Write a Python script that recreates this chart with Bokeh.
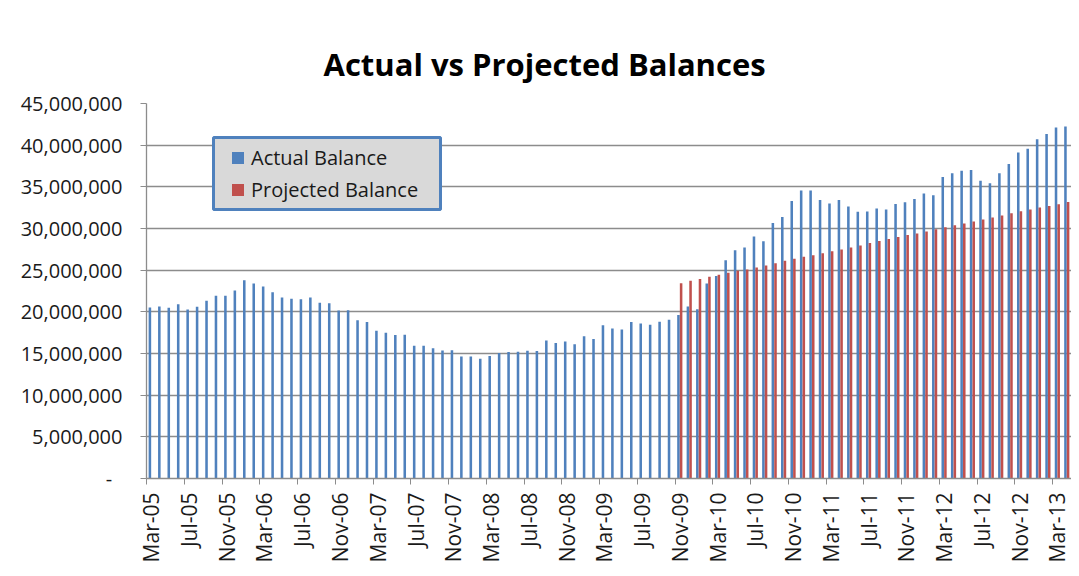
import math
import pandas as pd
from bokeh.plotting import figure
from bokeh.models import (ColumnDataSource, FixedTicker, Legend, LegendItem,
                          NumeralTickFormatter, BoxAnnotation)
from bokeh.embed import file_html
from bokeh.resources import INLINE

# ---------------- data ----------------
months = pd.date_range("2005-03-01", "2013-04-01", freq="MS").strftime("%b-%y").tolist()

actual_millions = [
    20.52, 20.64, 20.48, 20.92, 20.28, 20.60, 21.32, 21.92, 21.92, 22.56,
    23.80, 23.40, 23.04, 22.36, 21.72, 21.56, 21.52, 21.72, 21.08, 21.04,
    20.17, 20.20, 18.98, 18.77, 17.74, 17.50, 17.23, 17.26, 15.92, 15.92,
    15.64, 15.36, 15.40, 14.64, 14.64, 14.37, 14.69, 15.05, 15.17, 15.20,
    15.33, 15.29, 16.55, 16.27, 16.43, 16.10, 17.07, 16.75, 18.40, 17.99,
    17.87, 18.77, 18.60, 18.44, 18.80, 19.05, 19.63, 20.63, 20.30, 23.41,
    24.30, 26.20, 27.40, 27.71, 29.03, 28.48, 30.66, 31.38, 33.29, 34.57,
    34.57, 33.41, 33.01, 33.41, 32.65, 32.02, 32.03, 32.39, 32.27, 32.95,
    33.15, 33.55, 34.19, 33.99, 36.18, 36.62, 36.93, 37.01, 35.74, 35.42,
    36.62, 37.73, 39.13, 39.56, 40.72, 41.35, 42.11, 42.23,
]

projected_start = "Nov-09"
projected_millions = [
    23.43, 23.73, 23.93, 24.21, 24.45, 24.69, 24.93, 25.08, 25.32, 25.56,
    25.84, 26.12, 26.36, 26.60, 26.80, 27.04, 27.28, 27.47, 27.71, 27.95,
    28.26, 28.49, 28.73, 28.97, 29.21, 29.40, 29.64, 29.92, 30.16, 30.40,
    30.60, 30.84, 31.08, 31.32, 31.56, 31.84, 32.08, 32.27, 32.51, 32.71,
    32.91, 33.19,
]

tick_labels = ["Mar-05", "Jul-05", "Nov-05", "Mar-06", "Jul-06", "Nov-06",
               "Mar-07", "Jul-07", "Nov-07", "Mar-08", "Jul-08", "Nov-08",
               "Mar-09", "Jul-09", "Nov-09", "Mar-10", "Jul-10", "Nov-10",
               "Mar-11", "Jul-11", "Nov-11", "Mar-12", "Jul-12", "Nov-12",
               "Mar-13"]

y_ticks = [0, 5e6, 10e6, 15e6, 20e6, 25e6, 30e6, 35e6, 40e6, 45e6]

# ---------------- sources ----------------
BLUE = "#4F81BD"
RED = "#C0504D"
GRID = "#8C8C8C"
offset = 0.14
bar_w = 0.27

idx = list(range(len(months)))
src_a = ColumnDataSource(dict(
    x=[i - offset for i in idx],
    top=[v * 1e6 for v in actual_millions],
))
p0 = months.index(projected_start)
src_p = ColumnDataSource(dict(
    x=[p0 + i + offset for i in range(len(projected_millions))],
    top=[v * 1e6 for v in projected_millions],
))

FONT = "Open Sans"
W, H = 1071, 568
BL, BT, BB = 146, 103, 90
n = len(months)
frame_w = W - BL
px_per_cat = frame_w / n
y_max = 45e6
frame_h = H - BT - BB

p = figure(width=W, height=H, x_range=(-0.5, n - 0.5),
           y_range=(0, y_max), output_backend="svg", toolbar_location=None,
           min_border_left=BL, min_border_right=0, min_border_top=BT,
           min_border_bottom=BB)
p.outline_line_color = None
p.background_fill_color = "white"
p.border_fill_color = "white"

# title (left aligned with offset so that it is centred on the whole chart)
p.title.text = "Actual vs Projected Balances"
p.title.text_font = FONT
p.title.text_font_style = "bold"
p.title.text_font_size = "31px"
p.title.text_color = "black"
p.title.align = "left"
p.title.offset = 177
p.title.standoff = 37

ra = p.vbar(x="x", top="top", width=bar_w, bottom=0, source=src_a,
            fill_color=BLUE, line_color=None)
rp = p.vbar(x="x", top="top", width=bar_w, bottom=0, source=src_p,
            fill_color=RED, line_color=None)

# grid
p.xgrid.grid_line_color = None
p.ygrid.ticker = FixedTicker(ticks=y_ticks)
p.ygrid.grid_line_color = GRID
p.ygrid.grid_line_width = 1.3

# y axis
p.yaxis.ticker = FixedTicker(ticks=y_ticks)
p.yaxis.formatter = NumeralTickFormatter(format="0,0")
p.yaxis.major_label_overrides = {0: "-\u00a0\u00a0"}
p.yaxis.axis_line_color = GRID
p.yaxis.axis_line_width = 1.3
p.yaxis.major_tick_line_color = GRID
p.yaxis.major_tick_out = 6
p.yaxis.major_tick_in = 0
p.yaxis.minor_tick_line_color = None
p.yaxis.major_label_text_font = FONT
p.yaxis.major_label_text_font_size = "20px"
p.yaxis.major_label_text_color = "#1a1a1a"
p.yaxis.major_label_standoff = 18

# x axis: labels at month centres, tick marks at 4-month boundaries
tick_pos = [months.index(t) for t in tick_labels]
p.xaxis.ticker = FixedTicker(ticks=tick_pos, minor_ticks=[t - 0.5 for t in tick_pos])
p.xaxis.major_label_overrides = {t: lab for t, lab in zip(tick_pos, tick_labels)}
p.xaxis.major_label_orientation = math.pi / 2
p.xaxis.major_tick_line_color = None
p.xaxis.major_tick_out = 6
p.xaxis.minor_tick_line_color = GRID
p.xaxis.minor_tick_out = 6
p.xaxis.minor_tick_in = 0
p.xaxis.axis_line_color = GRID
p.xaxis.axis_line_width = 1.3
p.xaxis.major_label_text_font = FONT
p.xaxis.major_label_text_font_size = "21px"
p.xaxis.major_label_text_color = "#1a1a1a"
p.xaxis.major_label_standoff = 8

# legend frame (pixel box converted into data space)
def px_to_x(px):
    return (px - BL) / px_per_cat - 0.5

def py_to_y(py):
    return (BT + frame_h - py) / frame_h * y_max

box = BoxAnnotation(left=px_to_x(213), right=px_to_x(440),
                    top=py_to_y(137), bottom=py_to_y(209),
                    fill_color="#D9D9D9", fill_alpha=1,
                    line_color=BLUE, line_width=3, line_alpha=1)
p.add_layout(box)

legend = Legend(items=[LegendItem(label="Actual Balance", renderers=[ra]),
                       LegendItem(label="Projected Balance", renderers=[rp])],
                location=(230 - BL, BT + frame_h - 203), orientation="vertical")
legend.border_line_color = None
legend.background_fill_alpha = 0
legend.label_text_font = FONT
legend.label_text_font_size = "20px"
legend.label_text_color = "#1a1a1a"
legend.glyph_width = 15
legend.glyph_height = 15
legend.label_standoff = 6
legend.padding = 0
legend.spacing = 5
legend.margin = 0
p.add_layout(legend)

open("out.html", "w").write(file_html(p, INLINE))
